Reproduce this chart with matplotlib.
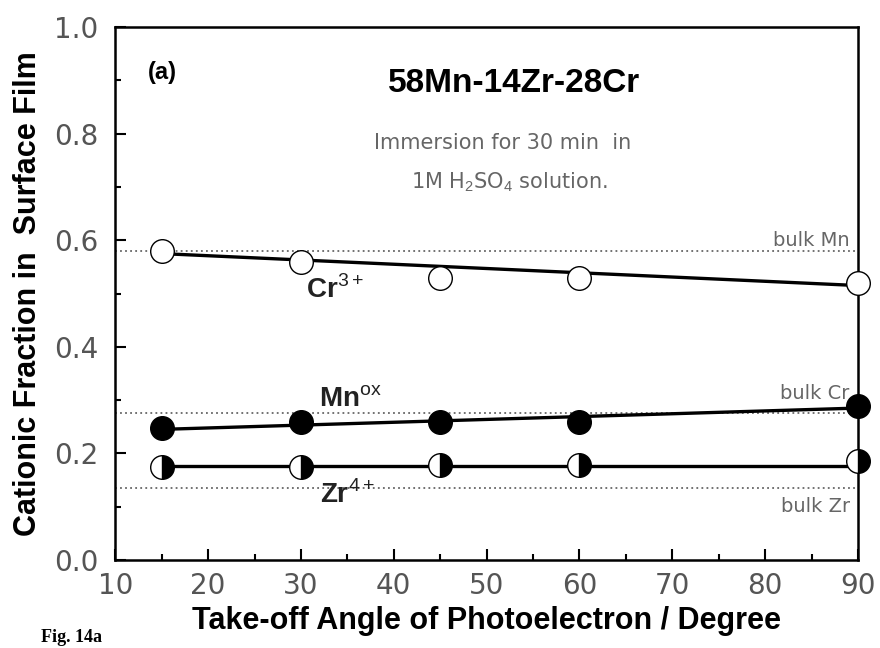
import numpy as np
import matplotlib
matplotlib.use("Agg")
import matplotlib.pyplot as plt
from matplotlib.ticker import MultipleLocator, FormatStrFormatter

plt.rcParams['font.family'] = ['Liberation Sans', 'DejaVu Sans']
plt.rcParams['mathtext.fontset'] = 'custom'
plt.rcParams['mathtext.rm'] = 'Liberation Sans'
plt.rcParams['mathtext.bf'] = 'Liberation Sans:bold'

# Take-off angles (degree)
angle = [15, 30, 45, 60, 90]

# Cationic fractions in the surface film
cr3 = [0.58, 0.56, 0.53, 0.53, 0.52]
mn_ox = [0.247, 0.258, 0.258, 0.258, 0.288]
zr4 = [0.174, 0.174, 0.178, 0.178, 0.185]

# Straight-line trends (end points at 15 and 90 degrees)
fit_angle = [15, 90]
cr3_fit = [0.575, 0.515]
mn_fit = [0.245, 0.285]
zr_fit = [0.177, 0.177]

# Bulk alloy compositions
bulk_mn = 0.58
bulk_cr = 0.275
bulk_zr = 0.135

fig = plt.figure(figsize=(8.8, 6.48), dpi=100)
ax = fig.add_axes([0.131, 0.136, 0.844, 0.822])

tick_gray = '#555555'
txt_gray = '#666666'
wide = ['DejaVu Sans']

# Bulk reference lines
for v in (bulk_mn, bulk_cr, bulk_zr):
    ax.axhline(v, color='#666666', lw=1.3, ls=(0, (1, 1.8)), zorder=1)

# Trend lines
for f in (cr3_fit, mn_fit, zr_fit):
    ax.plot(fit_angle, f, color='black', lw=2.4, zorder=2)

ms = 17
ax.plot(angle, cr3, ls='none', marker='o', ms=ms, mfc='white', mec='black',
        mew=1.0, zorder=3, clip_on=False)
ax.plot(angle, mn_ox, ls='none', marker='o', ms=ms, mfc='black', mec='black',
        mew=1.0, zorder=3, clip_on=False)
ax.plot(angle, zr4, ls='none', marker='o', ms=ms, fillstyle='right',
        mfc='black', markerfacecoloralt='white', mec='black', mew=1.0,
        zorder=3, clip_on=False)

ax.set_xlim(10, 90)
ax.set_ylim(0.0, 1.0)
ax.xaxis.set_major_locator(MultipleLocator(10))
ax.xaxis.set_minor_locator(MultipleLocator(5))
ax.yaxis.set_major_locator(MultipleLocator(0.2))
ax.yaxis.set_minor_locator(MultipleLocator(0.1))
ax.yaxis.set_major_formatter(FormatStrFormatter('%.1f'))

ax.tick_params(which='both', direction='in', top=False, right=False,
               labelsize=20, labelcolor=tick_gray, color='black', width=1.5)
ax.tick_params(which='major', length=8)
ax.tick_params(axis='x', which='major', pad=9)
ax.tick_params(axis='y', which='major', pad=12)
ax.tick_params(which='minor', length=4)
for lab in ax.get_xticklabels() + ax.get_yticklabels():
    lab.set_family(wide)
for s in ax.spines.values():
    s.set_linewidth(1.8)

ax.set_xlabel('Take-off Angle of Photoelectron / Degree', fontsize=22,
              fontweight='bold', labelpad=4)
ax.set_ylabel('Cationic Fraction in  Surface Film', fontsize=22,
              fontweight='bold', labelpad=8)

# Annotations
ax.text(13.5, 0.915, '(a)', fontsize=17, fontweight='bold', ha='left', va='center')
ax.text(53.0, 0.895, '58Mn-14Zr-28Cr', fontsize=24, fontweight='bold',
        ha='center', va='center')
ax.text(51.7, 0.782, 'Immersion for 30 min  in', fontsize=15, color=txt_gray,
        family=wide, ha='center', va='center')
ax.text(52.5, 0.709, '1M H$_2$SO$_4$ solution.', fontsize=15, color=txt_gray,
        family=wide, ha='center', va='center')

ax.text(30.5, 0.507, r'Cr$^{\mathrm{3+}}$', fontsize=20, fontweight='bold',
        color='#222222', ha='left', va='center')
ax.text(31.9, 0.300, r'Mn$^{\mathrm{ox}}$', fontsize=20, fontweight='bold',
        color='#222222', ha='left', va='center')
ax.text(32.1, 0.122, r'Zr$^{\mathrm{4+}}$', fontsize=20, fontweight='bold',
        color='#222222', ha='left', va='center')

ax.text(89.1, 0.600, 'bulk Mn', fontsize=14, color=txt_gray, family=wide,
        ha='right', va='center')
ax.text(89.1, 0.313, 'bulk Cr', fontsize=14, color=txt_gray, family=wide,
        ha='right', va='center')
ax.text(89.1, 0.100, 'bulk Zr', fontsize=14, color=txt_gray, family=wide,
        ha='right', va='center')

fig.text(0.047, 0.003, 'Fig. 14a', fontsize=13, family='Liberation Serif',
         fontweight='bold', ha='left', va='bottom')

fig.savefig('out.png', dpi=100)
